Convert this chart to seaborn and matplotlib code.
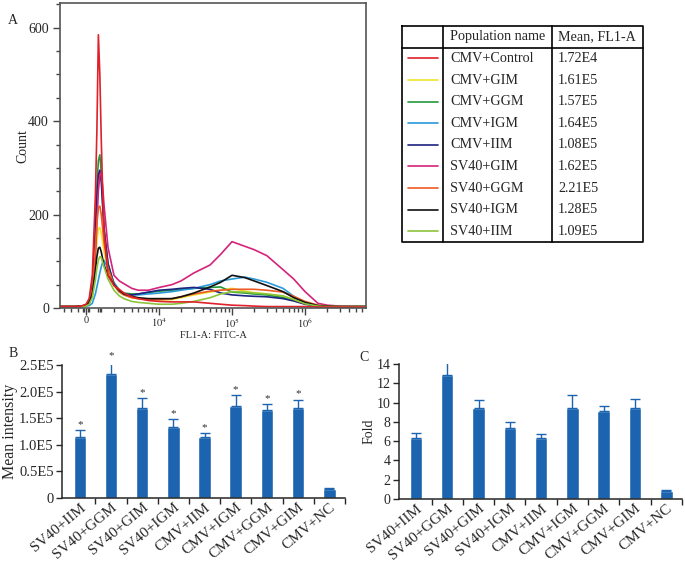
import numpy as np
import pandas as pd
import seaborn as sns
import matplotlib.pyplot as plt
from matplotlib.ticker import FixedLocator, NullFormatter

# ---- panel A: flow cytometry histograms ----
fl1_values = [-1800, -800, -300, 0, 200, 400, 600, 700, 800, 900, 1000, 1100, 1200,
              1500, 2000, 2500, 3000, 4000, 5000, 7000, 10000, 15000, 20000, 30000,
              50000, 70000, 100000, 150000, 200000, 300000, 500000, 700000, 1000000,
              1500000, 2000000, 3000000, 5000000, 6800000]

populations = ['CMV+Control', 'CMV+GIM', 'CMV+GGM', 'CMV+IGM', 'CMV+IIM',
               'SV40+GIM', 'SV40+GGM', 'SV40+IGM', 'SV40+IIM']
mean_fl1 = ['1.72E4', '1.61E5', '1.57E5', '1.64E5', '1.08E5',
            '1.62E5', '2.21E5', '1.28E5', '1.09E5']
line_colors = ['#e0202a', '#f0e430', '#22983c', '#2a9ad8', '#1c2380',
               '#d4237a', '#ee5a24', '#111111', '#8cc43c']

counts_cmv_control = [3, 3, 4, 8, 20, 70, 240, 380, 585, 500, 360, 250, 165, 70, 48, 40, 32, 24, 20, 16,
                      14, 13, 13, 13, 10, 8, 6, 5, 4, 3, 3, 3, 3, 2, 2, 2, 2, 2]
counts_cmv_gim = [3, 3, 4, 5, 10, 30, 100, 140, 170, 172, 160, 140, 120, 80, 48, 34, 28, 22, 20, 18,
                  17, 18, 22, 28, 34, 38, 42, 36, 33, 30, 25, 18, 10, 5, 4, 3, 3, 3]
counts_cmv_ggm = [3, 3, 4, 6, 14, 45, 170, 260, 315, 328, 290, 220, 170, 95, 52, 38, 32, 30, 30, 33,
                  36, 38, 40, 42, 44, 45, 34, 32, 30, 28, 22, 16, 9, 4, 3, 3, 3, 3]
counts_cmv_igm = [3, 3, 3, 4, 5, 10, 30, 45, 60, 75, 88, 98, 102, 85, 55, 38, 30, 28, 28, 30,
                  32, 35, 38, 42, 50, 58, 62, 66, 62, 55, 42, 25, 12, 5, 4, 3, 3, 3]
counts_cmv_iim = [3, 3, 4, 6, 15, 50, 170, 240, 285, 295, 270, 220, 170, 95, 50, 35, 30, 28, 30, 34,
                  38, 40, 42, 44, 40, 32, 28, 26, 25, 24, 20, 15, 8, 4, 3, 3, 3, 3]
counts_sv40_gim = [3, 3, 3, 5, 10, 30, 110, 180, 250, 285, 290, 260, 220, 130, 70, 58, 52, 42, 38, 38,
                   44, 50, 58, 75, 92, 115, 142, 132, 125, 112, 82, 62, 35, 10, 6, 4, 3, 3]
counts_sv40_ggm = [3, 3, 4, 6, 14, 40, 130, 180, 215, 218, 200, 170, 140, 85, 50, 35, 28, 22, 20, 18,
                   18, 20, 24, 30, 36, 38, 40, 40, 40, 38, 34, 25, 14, 6, 4, 3, 3, 3]
counts_sv40_igm = [3, 3, 4, 6, 12, 30, 80, 110, 128, 130, 120, 105, 92, 70, 50, 38, 30, 25, 22, 20,
                   20, 20, 24, 32, 45, 55, 70, 65, 58, 48, 35, 22, 12, 5, 4, 3, 3, 3]
counts_sv40_iim = [3, 3, 3, 4, 8, 22, 60, 85, 102, 110, 108, 98, 88, 62, 38, 26, 20, 14, 12, 10,
                   8, 8, 10, 14, 22, 30, 35, 34, 32, 30, 26, 18, 9, 4, 3, 3, 3, 3]

all_counts = [counts_cmv_control, counts_cmv_gim, counts_cmv_ggm, counts_cmv_igm, counts_cmv_iim,
              counts_sv40_gim, counts_sv40_ggm, counts_sv40_igm, counts_sv40_iim]

# ---- panels B and C: bar charts ----
categories = ['SV40+IIM', 'SV40+GGM', 'SV40+GIM', 'SV40+IGM', 'CMV+IIM',
              'CMV+IGM', 'CMV+GGM', 'CMV+GIM', 'CMV+NC']
mean_intensity = [1.14e5, 2.33e5, 1.70e5, 1.33e5, 1.14e5, 1.72e5, 1.65e5, 1.70e5, 0.17e5]
mean_intensity_err = [0.13e5, 0.25e5, 0.17e5, 0.15e5, 0.08e5, 0.21e5, 0.11e5, 0.15e5, 0.02e5]
fold = [6.33, 12.86, 9.44, 7.40, 6.33, 9.45, 9.10, 9.45, 0.83]
fold_err = [0.52, 1.34, 0.83, 0.56, 0.41, 1.35, 0.55, 0.95, 0.07]
significant = [True, True, True, True, True, True, True, True, False]

bar_color = '#1c64b0'

sns.set_style('ticks')
plt.rcParams['font.family'] = ['Liberation Serif', 'DejaVu Serif']
plt.rcParams['mathtext.fontset'] = 'stix'

fig = plt.figure(figsize=(6.85, 5.62), dpi=100)


def biex_fwd(x):
    return np.arcsinh(np.asarray(x) / 2000.0) / np.log(10)


def biex_inv(u):
    return 2000.0 * np.sinh(np.asarray(u) * np.log(10))


# ---------- A ----------
axA = fig.add_axes([0.0876, 0.452, 0.4467, 0.5427])
rows = []
for name, cnt in zip(populations, all_counts):
    for xv, cv in zip(fl1_values, cnt):
        rows.append({'FL1-A': xv, 'Count': cv, 'Population': name})
hist_df = pd.DataFrame(rows)
draw_order = populations[1:] + populations[:1]
sns.lineplot(data=hist_df, x='FL1-A', y='Count', hue='Population', hue_order=draw_order,
             palette=dict(zip(populations, line_colors)), estimator=None, sort=False,
             linewidth=1.2, legend=False, ax=axA)
axA.set_xscale('function', functions=(biex_fwd, biex_inv))
axA.set_xlim(-1830, 6.84e6)
axA.set_ylim(0, 653)
axA.set_xticks([0, 1e4, 1e5, 1e6])
axA.set_xticklabels(['0', '$10^4$', '$10^5$', '$10^6$'], fontsize=7.5)
minor_x = [-1500, -1000, -500, -200, -100, 100, 200, 800, 900]
for dec in [1e3, 1e4, 1e5, 1e6]:
    minor_x += [k * dec for k in range(2 if dec > 1e3 else 1, 10)]
axA.xaxis.set_minor_locator(FixedLocator(minor_x))
axA.xaxis.set_minor_formatter(NullFormatter())
axA.set_yticks([0, 200, 400, 600])
axA.yaxis.set_minor_locator(FixedLocator([50, 100, 150, 250, 300, 350, 450, 500, 550, 650]))
axA.tick_params(axis='y', labelsize=10, length=5, width=1, color='#444444', pad=3)
axA.tick_params(axis='y', which='minor', length=3, width=1, color='#444444')
axA.tick_params(axis='x', length=5, width=1, color='#444444', pad=1)
axA.tick_params(axis='x', which='minor', length=3, width=1, color='#444444')
for sp in axA.spines.values():
    sp.set_color('#555555')
    sp.set_linewidth(1.2)
axA.set_xlabel('FL1-A: FITC-A', fontsize=7.5, labelpad=1)
axA.set_ylabel('Count', fontsize=10)
axA.yaxis.set_label_coords(-0.1, 0.53)
fig.text(0.012, 0.958, 'A', fontsize=10)

# ---------- legend table ----------
axT = fig.add_axes([402 / 685, 1 - 242 / 562, 241 / 685, 216 / 562])
axT.set_xlim(0, 1)
axT.set_ylim(10, 0)
axT.axis('off')
col1, col2 = 0.17, 0.622
lw = 1.2
axT.plot([0, 1, 1, 0, 0], [0, 0, 10, 10, 0], color='black', lw=lw, clip_on=False)
axT.plot([col1, col1], [0, 10], color='black', lw=lw, clip_on=False)
axT.plot([col2, col2], [0, 10], color='black', lw=lw, clip_on=False)
axT.plot([0, 1], [1, 1], color='black', lw=lw, clip_on=False)
axT.text(0.2, 0.5, 'Population name', fontsize=10.2, va='center')
axT.text(0.647, 0.5, 'Mean, FL1-A', fontsize=10.2, va='center')
for i, (name, val, col) in enumerate(zip(populations, mean_fl1, line_colors)):
    yy = i + 1.5
    axT.plot([0.025, 0.149], [yy, yy], color=col, lw=1.2)
    axT.text(0.2, yy, name, fontsize=10.2, va='center')
    axT.text(0.647, yy, val, fontsize=10.2, va='center')


# ---------- B and C ----------
def bar_panel(ax, values, errs, xlim, ylim, yticks, yticklabels, ylabel, tick_fs, label_fs):
    bar_df = pd.DataFrame({'group': categories, 'value': values})
    sns.barplot(data=bar_df, x='group', y='value', color=bar_color, saturation=1,
                width=0.4, errorbar=None, ax=ax)
    ax.errorbar(range(len(categories)), values, yerr=[np.zeros(len(errs)), errs],
                fmt='none', ecolor=bar_color, elinewidth=1.0, capsize=3.5, capthick=1.0)
    ax.set_xlim(*xlim)
    ax.set_ylim(*ylim)
    ax.set_yticks(yticks)
    ax.set_yticklabels(yticklabels)
    ax.set_xticks(np.arange(len(categories)) + 0.5)
    ax.set_xticklabels([])
    ax.xaxis.set_minor_locator(FixedLocator(np.arange(len(categories))))
    ax.set_xticklabels(categories, minor=True, rotation=40, ha='right',
                       rotation_mode='anchor', fontsize=11)
    ax.tick_params(axis='x', which='minor', length=0, pad=2)
    ax.tick_params(axis='x', which='major', length=4, width=1)
    ax.tick_params(axis='y', labelsize=tick_fs, length=4, width=1, pad=2)
    ax.set_xlabel('')
    ax.set_ylabel(ylabel, fontsize=label_fs, labelpad=1)
    sns.despine(ax=ax)
    for sp in ['left', 'bottom']:
        ax.spines[sp].set_linewidth(1.1)


axB = fig.add_axes([0.0905, 0.1139, 0.413, 0.2367])
bar_panel(axB, mean_intensity, mean_intensity_err, (-0.57, 8.5), (0, 2.5e5),
          [0, 0.5e5, 1e5, 1.5e5, 2e5, 2.5e5],
          ['0', '0.5E5', '1.0E5', '1.5E5', '2.0E5', '2.5E5'], 'Mean intensity', 10.5, 11.5)
for i, (v, e, sig) in enumerate(zip(mean_intensity, mean_intensity_err, significant)):
    if sig:
        axB.text(i, v + e + 0.02e5, '*', ha='center', va='bottom', fontsize=8, color='#333333')
fig.text(0.012, 0.365, 'B', fontsize=10)

axC = fig.add_axes([0.5825, 0.1121, 0.413, 0.2402])
bar_panel(axC, fold, fold_err, (-0.54, 8.5), (0, 14), [0, 2, 4, 6, 8, 10, 12, 14],
          ['0', '2', '4', '6', '8', '10', '12', '14'], 'Fold', 10, 10)
fig.text(0.525, 0.357, 'C', fontsize=10)

fig.savefig('out.png', dpi=100)
